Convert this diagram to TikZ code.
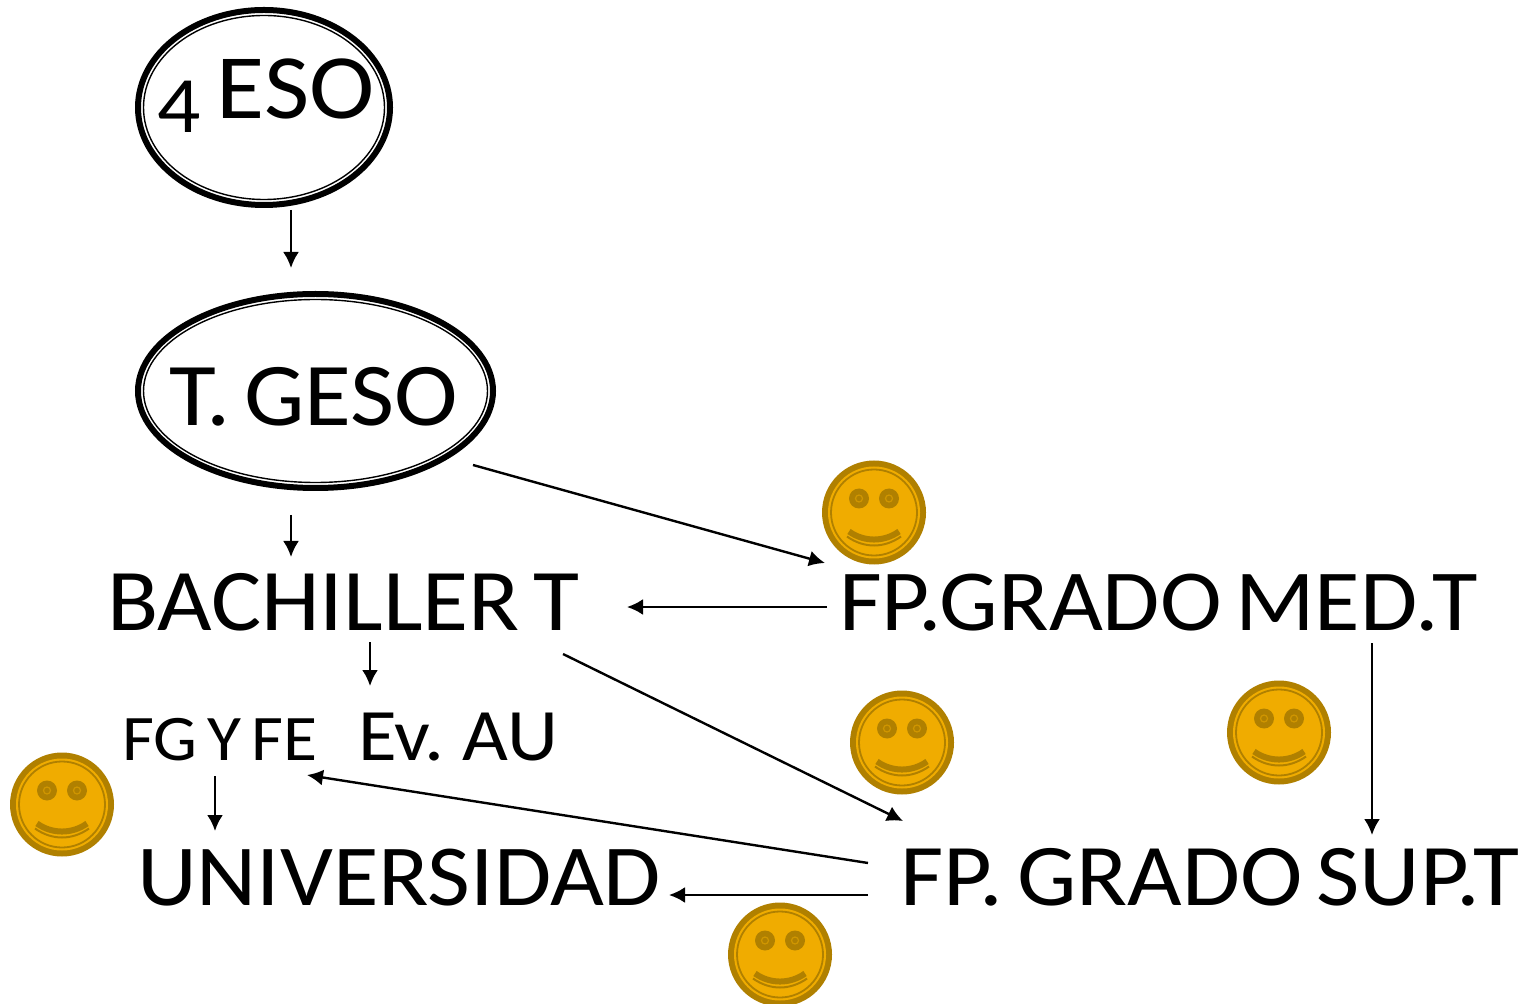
\documentclass[tikz,border=0pt]{standalone}
\usepackage{fontspec}
\setmainfont[FakeStretch=1.07,WordSpace=0.65]{Carlito}
\usetikzlibrary{arrows.meta,shapes.geometric}
\definecolor{coin}{HTML}{F0AC00}
\definecolor{coindark}{HTML}{B08000}
\newcommand{\lbl}[1]{\fontsize{#1}{#1}\selectfont}
\tikzset{
  x=0.5pt,y=-0.5pt,
  lab/.style={inner sep=0pt,outer sep=0pt,anchor=base west,text=black},
  big/.style={lab,font=\lbl{44}},
  mid/.style={lab,font=\lbl{37}},
  small/.style={lab,font=\lbl{32.5}},
  conn/.style={draw=black,line width=1.2pt,-{Latex[length=8pt,width=8pt]}},
  outerring/.style={ellipse,inner sep=0pt,draw=black,line width=3pt},
  innerring/.style={ellipse,inner sep=0pt,draw=black,line width=0.7pt},
  smile/.pic={
    \fill[coindark] (0,0) circle[radius=52];
    \fill[coin] (0,0) circle[radius=46];
    \draw[coindark,line width=0.9pt] (0,0) circle[radius=43];
    \fill[coindark] (-15,-14) circle[radius=10];
    \fill[coindark] (15,-14) circle[radius=10];
    \draw[coin!50!coindark,line width=0.6pt] (-15,-14) circle[radius=3.5];
    \draw[coin!50!coindark,line width=0.6pt] (15,-14) circle[radius=3.5];
    \draw[coindark,line width=3pt] (-25,19) .. controls (-10,29.7) and (10,29.7) .. (25,19);
    \draw[coindark,line width=1pt] (-27,24) .. controls (-10,36) and (10,36) .. (27,24);
  }
}
\begin{document}
\begin{tikzpicture}
\useasboundingbox (0,0) rectangle (1529,1004);
\node[outerring,minimum width=126pt,minimum height=97.5pt] (e1) at (264,107.5) {};
\node[innerring,minimum width=120.5pt,minimum height=92pt] (e1i) at (264,107.5) {};
\node[outerring,minimum width=177.5pt,minimum height=97pt] (e2) at (315.5,391) {};
\node[innerring,minimum width=172pt,minimum height=91.5pt] (e2i) at (315.5,391) {};
\node[big,font=\lbl{46}] (eso) at (157,119) {\raisebox{-7pt}{\lbl{40}4}\hspace{1pt} ESO};
\node[big,font=\lbl{44.8}] (geso) at (169,426) {T. GESO};
\node[big] (bach) at (107,630) {BACHILLER T};
\node[big,font=\lbl{43.5}] (fpm) at (839,630) {FP.GRADO MED.T};
\node[small] (fg) at (122,760) {FG Y FE};
\node[mid] (ev) at (358,760) {Ev.\hspace{0.5pt} AU};
\node[big,font=\lbl{43.5}] (uni) at (137,905) {UNIVERSIDAD};
\node[big] (fps) at (900,905) {FP. GRADO SUP.T};
\coordinate (a1) at (291,210); \coordinate (a2) at (291,268);
\coordinate (b1) at (291,515); \coordinate (b2) at (291,557);
\coordinate (c1) at (473,465); \coordinate (c2) at (825,563);
\coordinate (d1) at (827,607); \coordinate (d2) at (627,607);
\coordinate (f1) at (370,642); \coordinate (f2) at (370,686);
\coordinate (g1) at (563,654); \coordinate (g2) at (903,821);
\coordinate (h1) at (1372,643); \coordinate (h2) at (1372,835);
\coordinate (i1) at (215,776); \coordinate (i2) at (215,831);
\coordinate (j1) at (868,863); \coordinate (j2) at (307,775);
\coordinate (k1) at (868,895); \coordinate (k2) at (669,895);
\foreach \s/\t in {a1/a2,b1/b2,c1/c2,d1/d2,f1/f2,g1/g2,h1/h2,i1/i2,j1/j2,k1/k2}
  \draw[conn] (\s) -- (\t);
\pic at (874,512.5) {smile};
\pic at (902,742.5) {smile};
\pic at (1279,732.5) {smile};
\pic at (62,804.5) {smile};
\pic at (780,954.5) {smile};
\end{tikzpicture}
\end{document}
